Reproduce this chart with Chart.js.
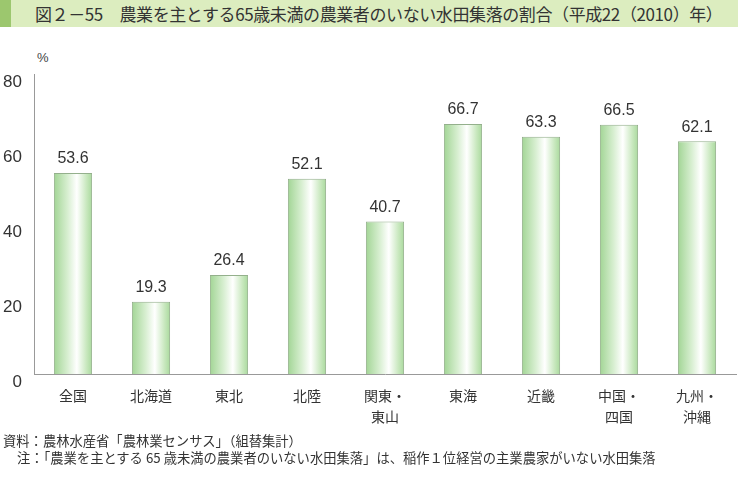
<!DOCTYPE html>
<html><head><meta charset="utf-8">
<script src="https://cdn.jsdelivr.net/npm/chart.js@4"></script>
<style>
html,body{margin:0;padding:0;background:#fff;}
#wrap{position:relative;width:738px;height:478px;overflow:hidden;}
#titlebar{position:absolute;left:0;top:0;width:738px;height:27px;background:#dcedbf;}
#stripe{position:absolute;left:0;top:0;width:11px;height:27px;background:#9cc76e;}
#title{position:absolute;left:35px;top:0;height:27px;line-height:27px;font-family:"Noto Sans CJK JP";font-size:17px;color:#333;white-space:nowrap;letter-spacing:-0.4px;}
#pct{position:absolute;left:37px;top:50px;font-family:"Liberation Sans";font-size:13px;color:#444;}
.note{position:absolute;font-family:"Noto Sans CJK JP";font-size:13.3px;color:#333;white-space:nowrap;line-height:16px;}
canvas{position:absolute;left:0;top:0;}
</style></head>
<body><div id="wrap">
<div id="titlebar"></div><div id="stripe"></div>
<div id="title">図２－55　農業を主とする65歳未満の農業者のいない水田集落の割合（平成22（2010）年）</div>
<div id="pct">%</div>
<canvas id="c" width="738" height="478"></canvas>
<div class="note" style="left:3px;top:433px;">資料：農林水産省「農林業センサス」（組替集計）</div>
<div class="note" style="left:17px;top:450px;">注：「農業を主とする 65 歳未満の農業者のいない水田集落」は、稲作１位経営の主業農家がいない水田集落</div>
</div>
<script>
const categories = [['全国'],['北海道'],['東北'],['北陸'],['関東・','東山'],['東海'],['近畿'],['中国・','四国'],['九州・','沖縄']];
const values = [53.6, 19.3, 26.4, 52.1, 40.7, 66.7, 63.3, 66.5, 62.1];
const yTicks = [0, 20, 40, 60, 80];

function barGradient(ctx){
  const chart = ctx.chart;
  const xs = chart.scales.x;
  if(!xs || !chart.chartArea) return '#b5dca8';
  const cx = xs.getPixelForValue(ctx.dataIndex);
  const w = (xs.width / categories.length) * 0.49;
  const g = chart.ctx.createLinearGradient(cx - w/2, 0, cx + w/2, 0);
  g.addColorStop(0, '#a2d595');
  g.addColorStop(0.35, '#d6eecf');
  g.addColorStop(0.6, '#ffffff');
  g.addColorStop(0.85, '#c9e8bf');
  g.addColorStop(1, '#a9d99d');
  return g;
}

const valueLabels = {
  id: 'valueLabels',
  afterDatasetsDraw(chart){
    const c = chart.ctx;
    const meta = chart.getDatasetMeta(0);
    c.save();
    c.font = '16px "Liberation Sans"';
    c.fillStyle = '#333';
    c.textAlign = 'center';
    c.textBaseline = 'bottom';
    meta.data.forEach((bar, i) => {
      c.fillText(values[i].toFixed(1), bar.x, bar.y - 6);
    });
    c.restore();
  }
};

new Chart(document.getElementById('c'), {
  type: 'bar',
  data: {
    labels: categories,
    datasets: [{
      data: values,
      backgroundColor: barGradient,
      borderColor: '#94b08c',
      borderWidth: 1,
      borderSkipped: 'bottom',
      categoryPercentage: 1,
      barPercentage: 0.49
    }]
  },
  options: {
    responsive: false,
    animation: false,
    events: [],
    layout: { padding: { top: 74, right: 2, bottom: 54, left: 0 } },
    plugins: { legend: { display: false }, tooltip: { enabled: false } },
    scales: {
      x: {
        grid: { display: false },
        border: { display: true, color: '#999', width: 1 },
        ticks: { color: '#333', font: { family: '"Noto Sans CJK JP"', size: 14, lineHeight: 1.45 }, padding: 4, maxRotation: 0, autoSkip: false },
        afterFit(s){ s.height = 50; }
      },
      y: {
        min: 0, max: 80,
        afterBuildTicks(s){ s.ticks = yTicks.map(v => ({ value: v })); },
        grid: { display: false },
        border: { display: true, color: '#999', width: 1 },
        ticks: { color: '#333', font: { family: '"Liberation Sans"', size: 17 }, padding: 4, labelOffset: 8 },
        afterFit(s){ s.width = 34; }
      }
    }
  },
  plugins: [valueLabels]
});
</script>
</body></html>
